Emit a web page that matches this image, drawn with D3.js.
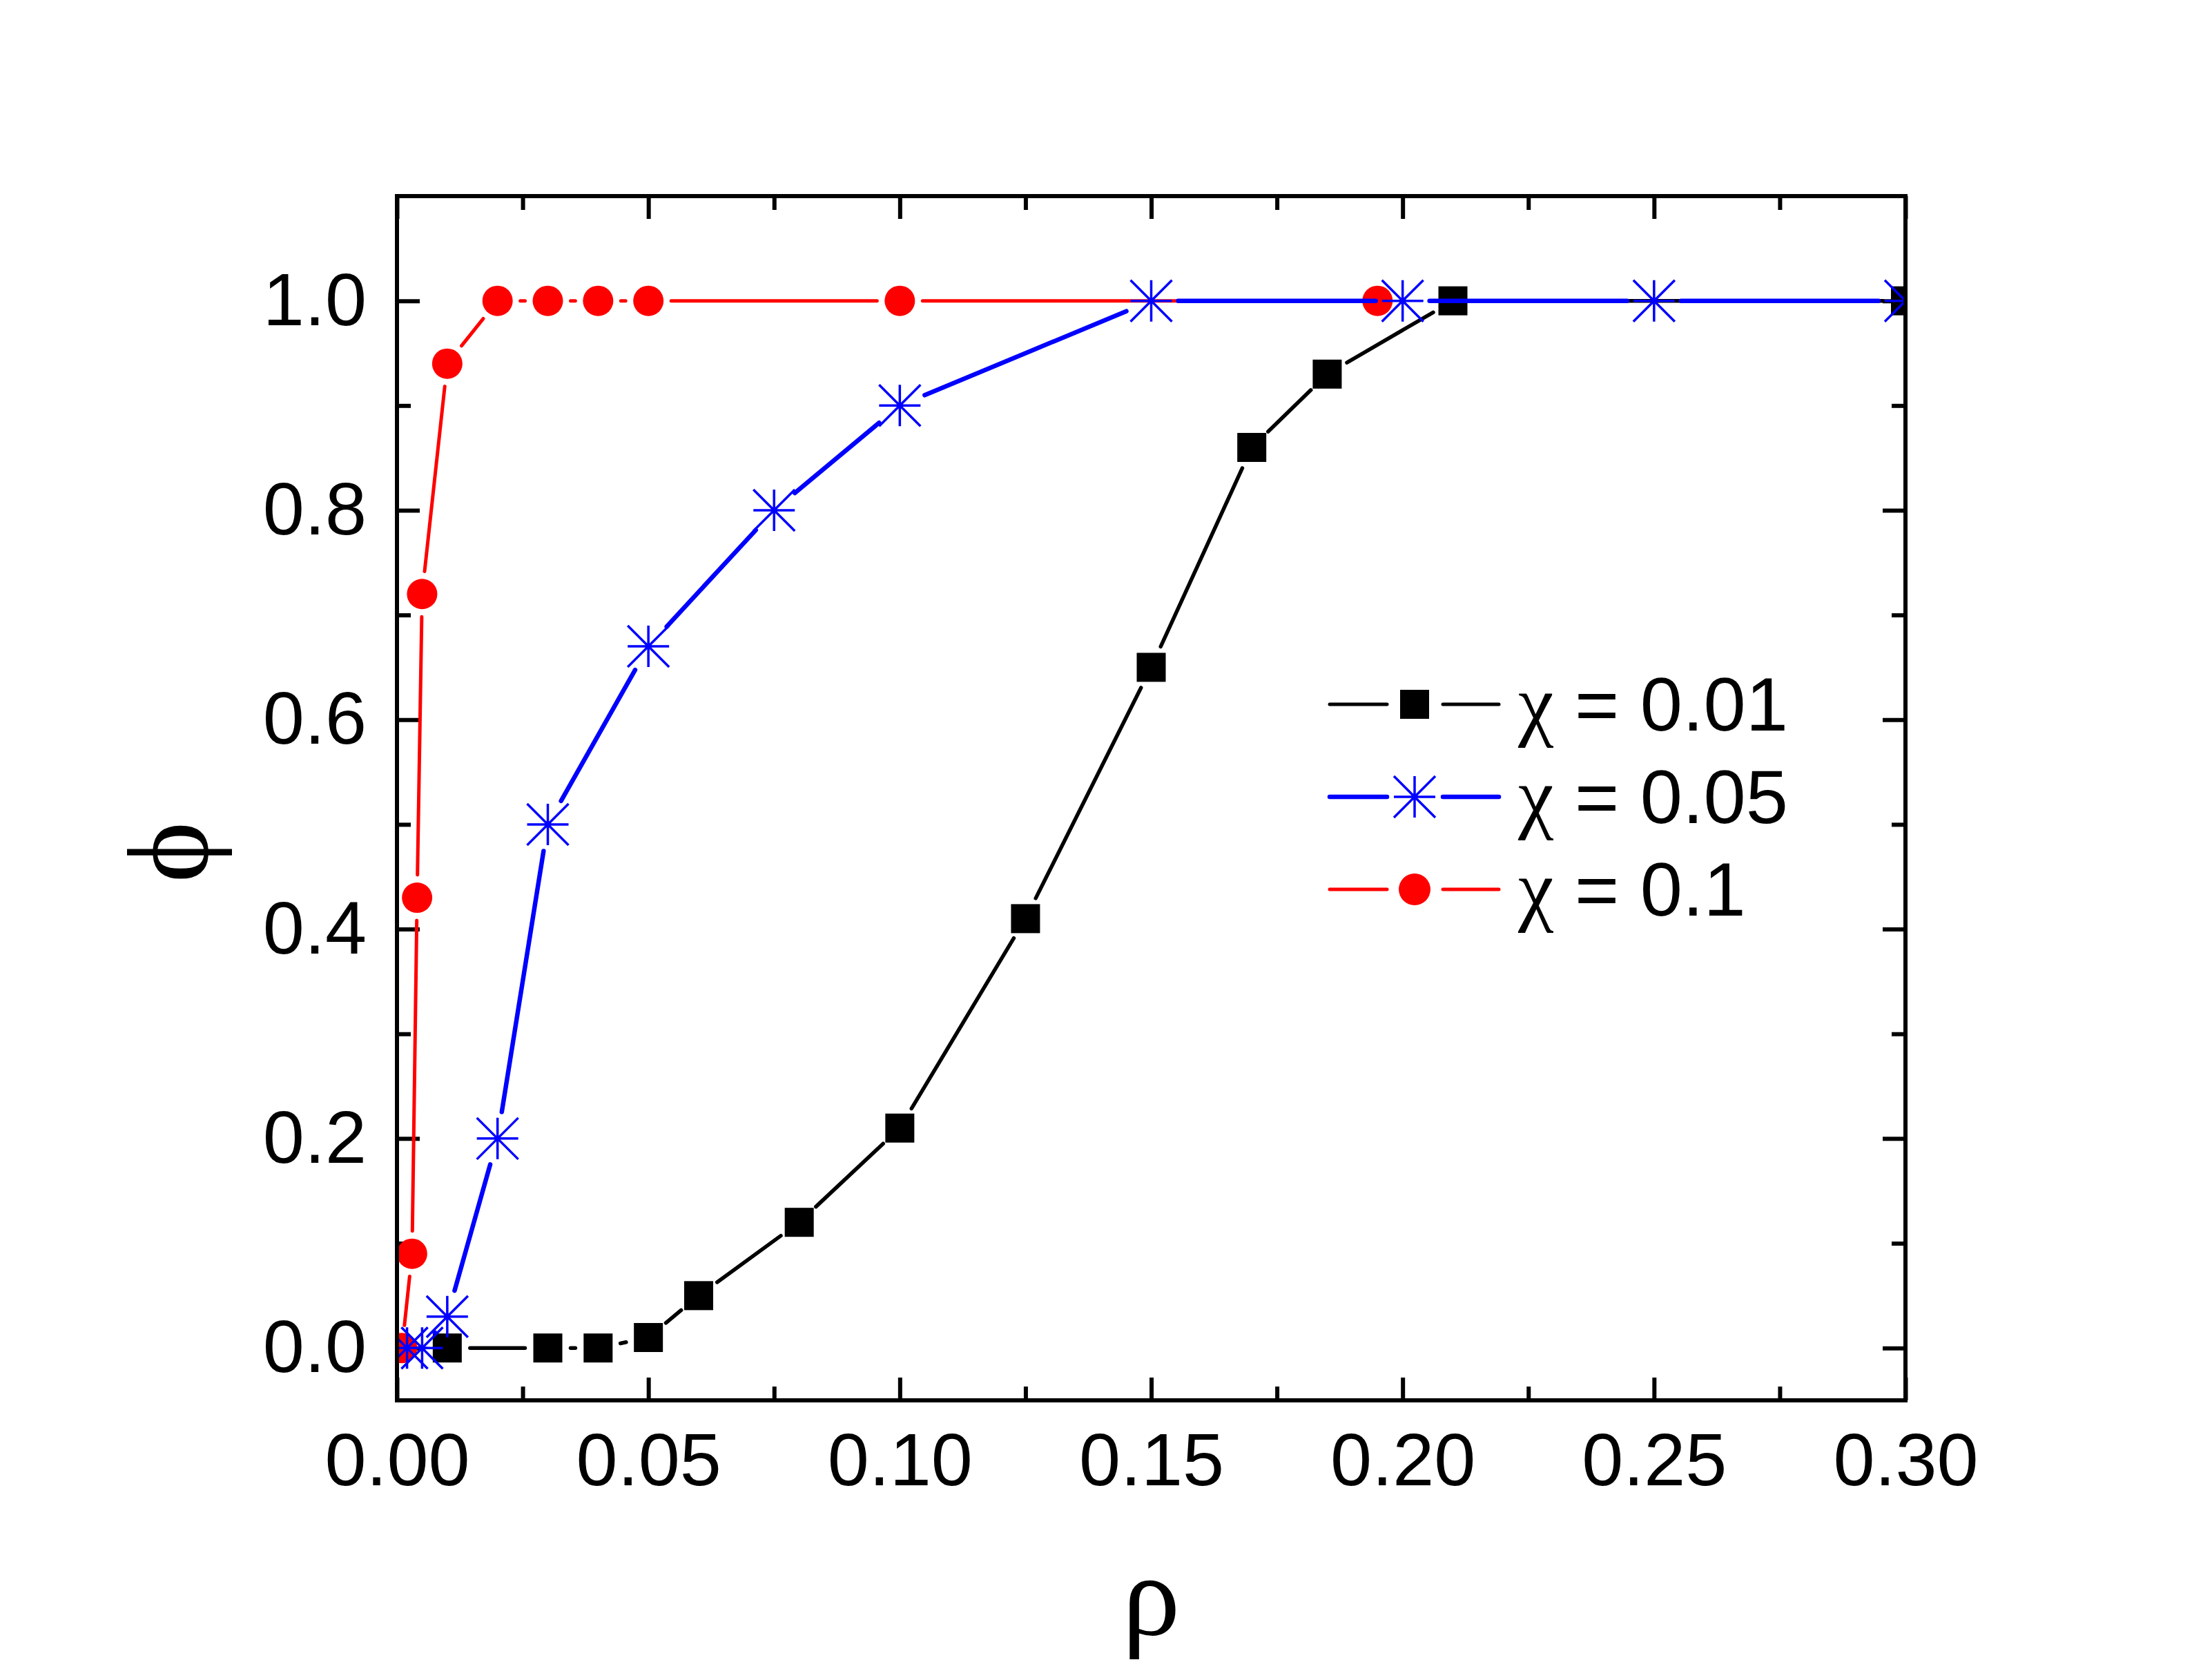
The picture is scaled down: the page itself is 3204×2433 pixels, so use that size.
<html>
<head>
<meta charset="utf-8">
<style>
    body { margin: 0; background: #fff; }
    .tick text { font-family: "Liberation Sans", Arial, sans-serif; font-size: 108px; fill: #000; }
    .tick line { stroke: #000; stroke-width: 6; }
    .greek { font-family: "Liberation Serif", "DejaVu Serif", serif; }
</style>
<script src="https://cdn.jsdelivr.net/npm/d3@7/dist/d3.min.js"></script>
</head>
<body>
<script>

    // data
    var rho1 = [0.01, 0.03, 0.04, 0.05, 0.06, 0.08, 0.10, 0.125, 0.15, 0.17, 0.185, 0.21, 0.30];
    var phi1 = [0, 0, 0, 0.01, 0.05, 0.12, 0.21, 0.41, 0.65, 0.86, 0.93, 1, 1];

    var rho2 = [0.002, 0.005, 0.01, 0.02, 0.03, 0.05, 0.075, 0.10, 0.15, 0.20, 0.25, 0.30];
    var phi2 = [0, 0, 0.03, 0.20, 0.50, 0.67, 0.80, 0.90, 1, 1, 1, 1];

    var rho3 = [0.001, 0.003, 0.004, 0.005, 0.01, 0.02, 0.03, 0.04, 0.05, 0.10, 0.195];
    var phi3 = [0, 0.09, 0.43, 0.72, 0.94, 1, 1, 1, 1, 1, 1];

    var seriesNames = ["χ = 0.01", "χ = 0.05", "χ = 0.1"];
    var xTicks = [0, 0.05, 0.10, 0.15, 0.20, 0.25, 0.30];
    var xMinor = [0.025, 0.075, 0.125, 0.175, 0.225, 0.275];
    var yTicks = [0, 0.2, 0.4, 0.6, 0.8, 1.0];
    var yMinor = [0.1, 0.3, 0.5, 0.7, 0.9];

    var W = 3204, H = 2433;
    var margin = {top: 284, bottom: 405, left: 575, right: 444},
        width = W - margin.left - margin.right,
        height = H - margin.top - margin.bottom;

    var svg = d3.select("body").append("svg")
        .attr("width", W)
        .attr("height", H);

    var g = svg.append("g")
        .attr("transform", "translate(" + margin.left + "," + margin.top + ")");

    var x = d3.scaleLinear().domain([0, 0.3]).range([0, width]);
    var y = d3.scaleLinear().domain([-0.05, 1.1]).range([height, 0]);

    // axes: major + minor ticks on all four sides, pointing inward
    function styleAxis(sel) {
        sel.select(".domain").remove();
    }
    g.append("g").attr("transform", "translate(0," + height + ")")
        .call(d3.axisBottom(x).tickValues(xTicks).tickSize(-33).tickPadding(46).tickFormat(d3.format(".2f")))
        .call(styleAxis);
    g.append("g").attr("transform", "translate(0," + height + ")")
        .call(d3.axisBottom(x).tickValues(xMinor).tickSize(-20).tickFormat(""))
        .call(styleAxis);
    g.append("g")
        .call(d3.axisTop(x).tickValues(xTicks).tickSize(-33).tickFormat(""))
        .call(styleAxis);
    g.append("g")
        .call(d3.axisTop(x).tickValues(xMinor).tickSize(-20).tickFormat(""))
        .call(styleAxis);
    g.append("g")
        .call(d3.axisLeft(y).tickValues(yTicks).tickSize(-33).tickPadding(44).tickFormat(d3.format(".1f")))
        .call(styleAxis);
    g.append("g")
        .call(d3.axisLeft(y).tickValues(yMinor).tickSize(-20).tickFormat(""))
        .call(styleAxis);
    g.append("g").attr("transform", "translate(" + width + ",0)")
        .call(d3.axisRight(y).tickValues(yTicks).tickSize(-33).tickFormat(""))
        .call(styleAxis);
    g.append("g").attr("transform", "translate(" + width + ",0)")
        .call(d3.axisRight(y).tickValues(yMinor).tickSize(-20).tickFormat(""))
        .call(styleAxis);

    g.selectAll(".tick text").attr("fill", "#000");

    svg.append("defs").append("clipPath").attr("id", "plotclip")
        .append("rect").attr("width", width).attr("height", height);

    var plot = g.append("g").attr("clip-path", "url(#plotclip)");

    // origin-style lines: each segment stops short of the markers
    function gappedSegments(xs, ys, gap) {
        var segs = [];
        for (var i = 0; i < xs.length - 1; i++) {
            var x0 = x(xs[i]), y0 = y(ys[i]), x1 = x(xs[i + 1]), y1 = y(ys[i + 1]);
            var dx = x1 - x0, dy = y1 - y0, len = Math.sqrt(dx * dx + dy * dy);
            if (len === 0) continue;
            var ux = dx / len, uy = dy / len;
            if (len <= 2 * gap) {
                if (len > 2 * gap - 30) {
                    var mx = (x0 + x1) / 2, my = (y0 + y1) / 2;
                    segs.push([mx, my, mx, my]);
                }
                continue;
            }
            segs.push([x0 + ux * gap, y0 + uy * gap, x1 - ux * gap, y1 - uy * gap]);
        }
        return segs;
    }

    function drawLine(xs, ys, color, sw, gap) {
        plot.append("g").selectAll("line")
            .data(gappedSegments(xs, ys, gap))
            .enter().append("line")
            .attr("x1", function (d) { return d[0]; })
            .attr("y1", function (d) { return d[1]; })
            .attr("x2", function (d) { return d[2]; })
            .attr("y2", function (d) { return d[3]; })
            .attr("stroke", color)
            .attr("stroke-width", sw)
            .attr("stroke-linecap", "round");
    }

    var starPath = "M-30,0H30M0,-30V30M-30,-30L30,30M-30,30L30,-30";

    function drawSquares(parent, xs, ys) {
        parent.append("g").selectAll("rect")
            .data(xs.map(function (v, i) { return [v, ys[i]]; }))
            .enter().append("rect")
            .attr("x", function (d) { return x(d[0]) - 21; })
            .attr("y", function (d) { return y(d[1]) - 21; })
            .attr("width", 42).attr("height", 42)
            .attr("fill", "#000");
    }
    function drawCircles(parent, xs, ys) {
        parent.append("g").selectAll("circle")
            .data(xs.map(function (v, i) { return [v, ys[i]]; }))
            .enter().append("circle")
            .attr("cx", function (d) { return x(d[0]); })
            .attr("cy", function (d) { return y(d[1]); })
            .attr("r", 22)
            .attr("fill", "#ff0000");
    }
    function drawStars(parent, xs, ys) {
        parent.append("g").selectAll("path")
            .data(xs.map(function (v, i) { return [v, ys[i]]; }))
            .enter().append("path")
            .attr("transform", function (d) { return "translate(" + x(d[0]) + "," + y(d[1]) + ")"; })
            .attr("d", starPath)
            .attr("stroke", "#0000ff")
            .attr("stroke-width", 3.5)
            .attr("fill", "none");
    }

    // red first, then black, blue on top
    drawLine(rho3, phi3, "#ff0000", 5, 33);
    drawCircles(plot, rho3, phi3);
    drawLine(rho1, phi1, "#000", 5.5, 33);
    drawSquares(plot, rho1, phi1);
    drawLine(rho2, phi2, "#0000ff", 6.5, 39);
    drawStars(plot, rho2, phi2);

    // frame
    g.append("rect")
        .attr("width", width).attr("height", height)
        .attr("fill", "none").attr("stroke", "#000").attr("stroke-width", 6);

    // axis titles
    svg.append("text")
        .attr("class", "greek")
        .attr("x", margin.left + width / 2)
        .attr("y", 2367)
        .attr("text-anchor", "middle")
        .attr("font-size", "168px")
        .text("ρ");

    svg.append("text")
        .attr("class", "greek")
        .attr("transform", "translate(300,1234) rotate(-90)")
        .attr("text-anchor", "middle")
        .attr("font-size", "168px")
        .text("ϕ");

    // legend
    var legendColors = ["#000", "#0000ff", "#ff0000"];
    var legendWidths = [5, 6.5, 5];
    var legendY = [1020, 1154, 1288];
    var legend = svg.append("g");
    seriesNames.forEach(function (name, i) {
        var row = legend.append("g").attr("transform", "translate(2049," + legendY[i] + ")");
        [[-123, -40], [41, 122]].forEach(function (s) {
            row.append("line")
                .attr("x1", s[0]).attr("x2", s[1])
                .attr("stroke", legendColors[i])
                .attr("stroke-width", legendWidths[i])
                .attr("stroke-linecap", "round");
        });
        if (i === 0) {
            row.append("rect").attr("x", -21).attr("y", -21).attr("width", 42).attr("height", 42).attr("fill", "#000");
        } else if (i === 1) {
            row.append("path").attr("d", starPath).attr("stroke", "#0000ff").attr("stroke-width", 3.5).attr("fill", "none");
        } else {
            row.append("circle").attr("r", 23).attr("fill", "#ff0000");
        }
        var t = row.append("text")
            .attr("x", 150)
            .attr("y", 38)
            .attr("font-family", "'Liberation Sans', Arial, sans-serif")
            .attr("font-size", "110px");
        t.append("tspan")
            .attr("class", "greek")
            .attr("font-size", "116px")
            .text(name.slice(0, 1));
        t.append("tspan").text(name.slice(1));
    });

</script>
</body>
</html>
